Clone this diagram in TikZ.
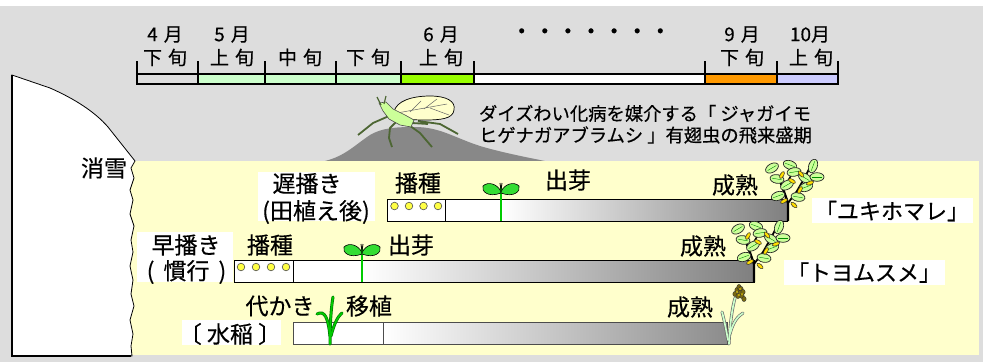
\documentclass[tikz,border=0pt]{standalone}
\usepackage{fontspec}
\setmainfont{Noto Sans CJK JP}[FakeBold=0.4]
\usetikzlibrary{shapes.geometric,calc}

\definecolor{panelgray}{HTML}{DDDDDD}
\definecolor{fieldyellow}{HTML}{FFFFCC}
\definecolor{maypale}{HTML}{CCFFCC}
\definecolor{junelime}{HTML}{99FF00}
\definecolor{septorange}{HTML}{FF9900}
\definecolor{octlav}{HTML}{CCCCFF}
\definecolor{hill}{HTML}{888888}
\definecolor{seedyellow}{HTML}{FFFF44}
\definecolor{sproutgreen}{HTML}{33DD33}
\definecolor{stemgreen}{HTML}{00CC00}
\definecolor{soyleaf}{HTML}{CCFF99}
\definecolor{podyellow}{HTML}{FFDD00}
\definecolor{aphidgreen}{HTML}{CCFF99}
\definecolor{wingcream}{HTML}{FFFFCC}
\definecolor{legdark}{HTML}{4D6633}
\definecolor{ricepale}{HTML}{CCFFCC}
\definecolor{ricehead}{HTML}{7A6A10}

\newcommand\tlgap{\hspace{6pt}}
\newcommand\pgap{\hspace{9pt}}
\newcommand\fsT{\fontsize{19}{21}\selectfont}
\newcommand\fsL{\fontsize{23}{25}\selectfont}
\newcommand\fsV{\fontsize{22}{24}\selectfont}
\newcommand\fsN{\fontsize{18.3}{20}\selectfont}

\tikzset{
  lbl/.style={inner sep=0pt, outer sep=0pt, font=\fsL},
  tl/.style={inner sep=0pt, outer sep=0pt, font=\fsT},
  note/.style={inner sep=0pt, outer sep=0pt, font=\fsN, anchor=west},
  barline/.style={draw=black, line width=1},
  tick/.style={line width=2},
  whitebox/.style={fill=white},
  seed/.style={fill=seedyellow, draw=black!70, line width=0.6},
  % young soybean seedling, origin at the foot of the stem
  sprout/.pic={
    \draw[line width=2.8, black!60!green] (0,0) -- (0,-34);
    \draw[line width=1.6, stemgreen] (0,0) -- (0,-34);
    \filldraw[fill=sproutgreen, draw=black, line width=0.6]
      (0,-29) .. controls (-3,-37) and (-13,-40) .. (-18,-35)
      .. controls (-20,-30) and (-13,-23) .. (0,-28) -- cycle;
    \filldraw[fill=sproutgreen, draw=black, line width=0.6]
      (0,-29) .. controls (3,-37) and (13,-40) .. (18,-35)
      .. controls (20,-30) and (13,-23) .. (0,-28) -- cycle;
    \draw[line width=0.8] (0,-31) -- (-1,-38) (0,-31) -- (1,-38);
  },
  % ripe soybean plant with pods, origin at the foot of the stem
  soy/.pic={
    \draw[line width=2.4, line join=round] (0,0) -- (0,-18) -- (-5,-32) -- (-10,-46);
    \draw[line width=1.8, line join=round] (0,-18) -- (9,-30) -- (17,-44) -- (22,-54);
    \draw[line width=1.5] (-5,-32) -- (4,-47) (9,-30) -- (20,-35);
    \foreach \lx/\ly/\la in {-16/-53/30, 2/-56/-20, 25/-55/70, -11/-42/-10,
        6/-49/10, 17/-43/-30, 29/-44/0, 18/-34/20, -10/-25/20, 10/-24/-10, -1/-36/30}
      \filldraw[fill=soyleaf, draw=black!85, line width=0.7, rotate around={\la:(\lx,\ly)}]
        (\lx,\ly) ellipse (7 and 4.3);
    \foreach \lx/\ly/\la in {-16/-53/30, 2/-56/-20, 25/-55/70, -11/-42/-10,
        6/-49/10, 17/-43/-30, 29/-44/0, 18/-34/20, -10/-25/20, 10/-24/-10, -1/-36/30}
      \draw[black!45!green, line width=0.4, rotate around={\la:(\lx,\ly)}]
        ($(\lx,\ly)+(-5,0)$) -- ($(\lx,\ly)+(5,0)$);
    \foreach \px/\py/\pa in {-6/-46/60, 4/-40/-30, 12/-31/60, -4/-20/30, 6/-16/-40, 22/-38/20, 13/-47/-50}
      \filldraw[fill=podyellow, draw=black!85, line width=0.5, rotate around={\pa:(\px,\py)}]
        (\px,\py) ellipse (3.8 and 1.8);
  },
  % transplanted rice seedling
  seedling/.pic={
    \foreach \w/\c in {3/black!55!green, 1.7/stemgreen}{
      \draw[line width=\w, \c, line cap=round] (0,0) .. controls (0,-20) and (1,-35) .. (3,-47);
      \draw[line width=\w, \c, line cap=round] (0,-8) .. controls (-2,-26) and (-5,-34) .. (-13,-30);
      \draw[line width=\w, \c, line cap=round] (1,-8) .. controls (4,-20) and (8,-28) .. (12,-31);
    }
  },
  % ripe rice plant with a drooping ear
  riceplant/.pic={
    \foreach \w/\c in {3/black!60, 1.7/ricepale}{
      \draw[line width=\w, \c, line cap=round] (1,0) .. controls (2,-20) and (4,-35) .. (7,-46);
      \draw[line width=\w, \c, line cap=round] (0,-4) .. controls (-2,-15) and (-4,-25) .. (-6,-32);
      \draw[line width=\w, \c, line cap=round] (2,-10) .. controls (5,-22) and (10,-28) .. (15,-31);
    }
    \foreach \hx/\hy in {7/-50, 9/-54, 11/-57, 13/-55, 12/-51, 15/-52, 10/-48, 14/-48, 16/-45}
      \filldraw[fill=ricehead, draw=black!80, line width=0.4] (\hx,\hy) ellipse (2.2 and 2.6);
    \foreach \hx/\hy in {9/-52, 12/-55, 14/-50, 11/-49}
      \fill[podyellow] (\hx,\hy) circle (0.8);
  }
}

\begin{document}
\begin{tikzpicture}[x=1pt,y=-1pt]
\useasboundingbox (0,0) rectangle (989,362);
\fill[white] (0,0) rectangle (989,362);
\fill[panelgray] (0,6) rectangle (983,362);

% ---------- calendar strip ----------
\fill[maypale] (198,74) rectangle (401,84);
\fill[junelime] (401,74) rectangle (474,84);
\fill[white] (474,74) rectangle (705,84);
\fill[septorange] (705,74) rectangle (777,84);
\fill[octlav] (777,74) rectangle (838,84);
\draw[tick] (137,74) rectangle (838,84);
\foreach \x in {137,198,265,336,401,474,705,777,838}
  \draw[tick] (\x,61) -- (\x,84);

\node[tl] (m4)  at (165,34.5) {4\tlgap 月};
\node[tl] (d4)  at (165,57.5) {下\tlgap 旬};
\node[tl] (m5)  at (232,34.5) {5\tlgap 月};
\node[tl] (d5a) at (232,57.5) {上\tlgap 旬};
\node[tl] (d5b) at (300,57.5) {中\tlgap 旬};
\node[tl] (d5c) at (368,57.5) {下\tlgap 旬};
\node[tl] (m6)  at (441,34.5) {6\tlgap 月};
\node[tl] (d6)  at (441,57.5) {上\tlgap 旬};
\node[inner sep=0pt, font=\fontsize{23.1}{25}\selectfont] (gap) at (591,34) {・・・・・・・};
\node[tl] (m9)  at (742,34.5) {9\tlgap 月};
\node[tl] (d9)  at (742,57.5) {下\tlgap 旬};
\node[tl] (m10) at (810,34.5) {10月};
\node[tl] (d10) at (811,57.5) {上\tlgap 旬};

% ---------- aphid on its hill ----------
\fill[hill] (325,161) .. controls (345,156) and (355,145) .. (370,135)
  .. controls (382,128) and (395,127) .. (415,127)
  .. controls (440,127) and (455,138) .. (480,146)
  .. controls (500,152) and (525,157) .. (545,161) -- cycle;

\draw[legdark, line width=1.8, line join=round]
  (389,116) -- (373,123) -- (358,135)
  (396,122) -- (390,128) -- (389,138) -- (392,147)
  (406,123) -- (420,133) -- (432,147)
  (418,121) -- (440,124) -- (458,134)
  (412,123) -- (428,124);
\filldraw[fill=wingcream, draw=black, line width=0.7]
  (394,112) .. controls (396,101) and (412,96) .. (430,96)
  .. controls (446,96) and (456,101) .. (454,110)
  .. controls (453,119) and (440,120) .. (425,120)
  .. controls (410,120) and (396,119) .. (394,112) -- cycle;
\draw[black!60, line width=0.5]
  (397,113) -- (447,104) (410,112) -- (421,101) (424,109) -- (437,99) (430,108) -- (449,115);
\filldraw[fill=aphidgreen, draw=black!70, line width=0.6]
  (379,103) -- (386,102) -- (393,109) -- (405,115) -- (414,120) -- (411,127)
  -- (400,125) -- (389,119) -- (383,111) -- cycle;
\draw[legdark, line width=1.2] (381,105) -- (377,97) (384,104) -- (386,96);

\node[note] (ann1) at (479,113.5) {ダイズわい化病を媒介する「 ジャガイモ};
\node[note] (ann2) at (479,135) {ヒゲナガアブラムシ 」有翅虫の飛来盛期};

% ---------- field and snow edge ----------
\fill[fieldyellow] (128,161) rectangle (979,355);
\filldraw[fill=white, draw=black, line width=0.8]
  (12,75) -- (50,88) .. controls (75,99) and (95,112) .. (108,127) -- (135,161)
  -- (131,168) -- (134,178) -- (130,190) -- (133,200) -- (130,214) -- (134,226)
  -- (131,240) -- (133,252) -- (130,266) -- (133,280) -- (131,294) -- (134,306)
  -- (130,320) -- (133,334) -- (131,346) -- (132,356) -- (12,356) -- cycle;
\draw[line width=2] (12,75) -- (12,356) -- (131,356);
\node[lbl] (snowmelt) at (104,168) {消雪};

% ---------- row 1: late sowing ----------
\fill[whitebox] (258,172) rectangle (375,221);
\node[lbl] (late1) at (307,183.5) {遅播き};
\node[lbl] (late2) at (316,212) {(田植え後)};
\node[lbl] (sow1) at (418,183) {播種};
\node[lbl] (emg1) at (568,180) {出芽};
\node[lbl] (mat1) at (735,185) {成熟};
\fill[white] (387,199) rectangle (501,221);
\shade[left color=white, right color=black!50] (501,199) rectangle (787,221);
\draw[barline] (387,199) rectangle (787,221);
\draw[barline] (445,199) -- (445,221);
\foreach \x in {394.5,409,423.5,438} \filldraw[seed] (\x,206) circle (3.8);
\pic at (501,221) {sprout};
\pic at (788,221) {soy};
\fill[whitebox] (812,198) rectangle (973,223);
\node[inner sep=0pt, font=\fsV] (var1) at (892,211) {「ユキホマレ」};

% ---------- row 2: standard sowing ----------
\fill[whitebox] (137,232) rectangle (233,282);
\node[lbl] (early1) at (186,245) {早播き};
\node[lbl] (early2) at (186.5,272) {(\pgap 慣行\pgap)};
\node[lbl] (sow2) at (270,245) {播種};
\node[lbl] (emg2) at (411,245) {出芽};
\node[lbl] (mat2) at (703,246) {成熟};
\fill[white] (234,260) rectangle (362,282);
\shade[left color=white, right color=black!50] (362,260) rectangle (754,282);
\draw[barline] (234,260) rectangle (754,282);
\draw[barline] (293,260) -- (293,282);
\foreach \x in {241,256,271,286} \filldraw[seed] (\x,267) circle (3.8);
\pic at (362,282) {sprout};
\pic at (754,282) {soy};
\fill[whitebox] (784,260) rectangle (945,285);
\node[inner sep=0pt, font=\fsV] (var2) at (864,272.5) {「トヨムスメ」};

% ---------- row 3: paddy rice ----------
\fill[whitebox] (182,320) rectangle (281,345);
\node[lbl] (paddy) at (230,334) {〔 水稲 〕};
\node[lbl] (puddle) at (280,306) {代かき};
\node[lbl] (trans) at (369,306) {移植};
\node[lbl] (mat3) at (690,307) {成熟};
\fill[white] (293,322) rectangle (383,344);
\shade[left color=white, right color=black!45] (383,322) rectangle (727,344);
\draw[barline, draw=black!70] (293,322) rectangle (727,344);
\draw[barline, draw=black!70] (383,322) -- (383,344);
\pic at (330,344) {seedling};
\pic at (728,344) {riceplant};
\end{tikzpicture}
\end{document}
